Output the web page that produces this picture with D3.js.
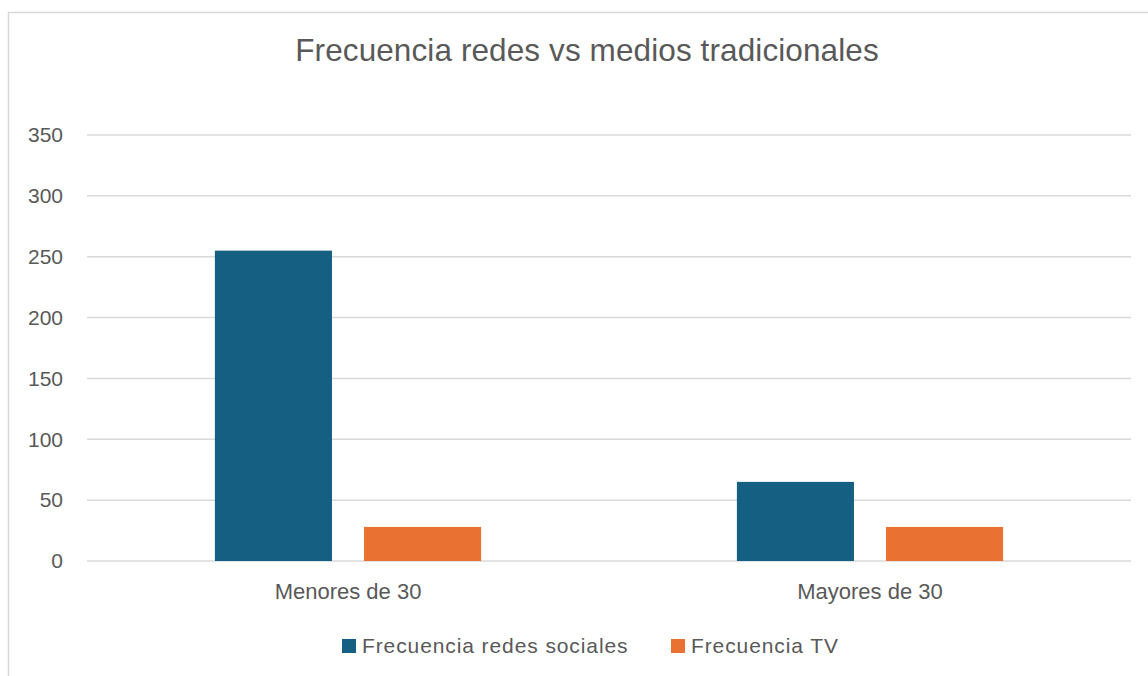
<!DOCTYPE html>
<html>
<head>
<meta charset="utf-8">
<script src="https://cdn.jsdelivr.net/npm/d3@7"></script>
<style>
  body { margin: 0; background: #fff; }
  svg { display: block; font-family: "Liberation Sans", Arial, sans-serif; }
</style>
</head>
<body>
<svg id="chart" width="1148" height="676"></svg>
<script>
const categories = ["Menores de 30", "Mayores de 30"];
const seriesNames = ["Frecuencia redes sociales", "Frecuencia TV"];
const redesValues = [255, 65];
const tvValues = [28, 28];
const yTicks = [0, 50, 100, 150, 200, 250, 300, 350];
const colors = ["#156082", "#E97132"];

const data = categories.map((c, i) => ({ cat: c, values: [redesValues[i], tvValues[i]] }));

const svg = d3.select("#chart"),
    margin = { top: 135, right: 17, bottom: 115, left: 87 },
    width = +svg.attr("width") - margin.left - margin.right,
    height = +svg.attr("height") - margin.top - margin.bottom;

// chart border
svg.append("rect")
    .attr("x", 8.5).attr("y", 12.5)
    .attr("width", 1160).attr("height", 700)
    .attr("fill", "#fff")
    .attr("stroke", "#d9d9d9")
    .attr("stroke-width", 1.5);

svg.append("text")
    .attr("x", 587).attr("y", 61)
    .attr("text-anchor", "middle")
    .attr("font-size", 31.5)
    .attr("letter-spacing", 0.1)
    .attr("fill", "#595959")
    .text("Frecuencia redes vs medios tradicionales");

const x0 = d3.scaleBand().domain(categories).range([0, width]).paddingInner(0.49).paddingOuter(0.245);
const x1 = d3.scaleBand().domain(seriesNames).range([0, x0.bandwidth()]).paddingInner(0.215);
const y = d3.scaleLinear().domain([0, 350]).range([height, 0]);

const g = svg.append("g").attr("transform", `translate(${margin.left},${margin.top})`);

// gridlines
g.append("g")
    .selectAll("line")
    .data(yTicks)
    .join("line")
    .attr("x1", 0).attr("x2", width)
    .attr("y1", d => y(d)).attr("y2", d => y(d))
    .attr("stroke", "#d9d9d9")
    .attr("stroke-width", 1.5);

// y axis labels
const yAxis = g.append("g")
    .call(d3.axisLeft(y).tickValues(yTicks).tickSize(0).tickPadding(24));
yAxis.select(".domain").remove();
yAxis.selectAll("text")
    .attr("font-size", 21)
    .attr("fill", "#595959")
    .attr("font-family", "\"Liberation Sans\", Arial, sans-serif");

// bars
g.append("g")
    .selectAll("g")
    .data(data)
    .join("g")
    .attr("transform", d => `translate(${x0(d.cat)},0)`)
    .selectAll("rect")
    .data(d => d.values.map((v, i) => ({ key: seriesNames[i], value: v, i })))
    .join("rect")
    .attr("x", d => x1(d.key))
    .attr("y", d => y(d.value))
    .attr("width", x1.bandwidth())
    .attr("height", d => y(0) - y(d.value))
    .attr("fill", d => colors[d.i]);

// x axis labels
const xAxis = g.append("g")
    .attr("transform", `translate(0,${height})`)
    .call(d3.axisBottom(x0).tickSize(0).tickPadding(22));
xAxis.select(".domain").remove();
xAxis.selectAll("text")
    .attr("font-size", 22)
    .attr("fill", "#595959")
    .attr("font-family", "\"Liberation Sans\", Arial, sans-serif");

// legend
const legendItems = [
    { name: seriesNames[0], color: colors[0], x: 342 },
    { name: seriesNames[1], color: colors[1], x: 671 }
];
const legend = svg.append("g");
legendItems.forEach(d => {
    legend.append("rect")
        .attr("x", d.x).attr("y", 639)
        .attr("width", 14).attr("height", 14)
        .attr("fill", d.color);
    legend.append("text")
        .attr("x", d.x + 20).attr("y", 653)
        .attr("font-size", 21)
        .attr("letter-spacing", 0.9)
        .attr("fill", "#595959")
        .text(d.name);
});
</script>
</body>
</html>
